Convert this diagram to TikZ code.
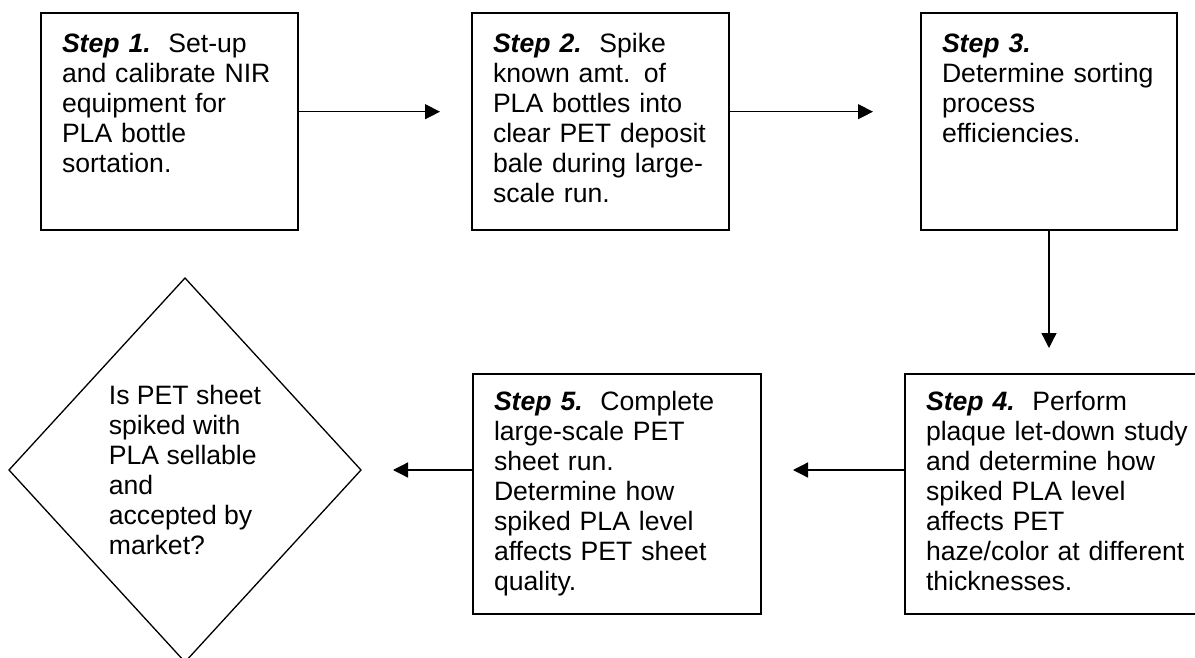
\documentclass[tikz,border=0pt]{standalone}
\usepackage{fontspec}
\setmainfont{Liberation Sans}
\usepackage{tikz}
\usetikzlibrary{arrows.meta,shapes.geometric}
\tikzset{
  stepbox/.style={draw,line width=1pt,anchor=north west,outer sep=0pt,inner xsep=10.5pt,inner ysep=0pt,align=left},
  toprow/.style={stepbox,text height=20pt,text depth=88.5pt},
  lowrow/.style={stepbox,text height=18pt,text depth=102pt},
  quest/.style={diamond,draw,line width=0.65pt,minimum width=176pt,minimum height=192pt,inner sep=0pt,outer sep=0pt,align=left},
  arr/.style={-{Triangle[length=7.5pt,width=7.5pt]},line width=0.65pt},
}
\newcommand{\stp}[1]{\textbf{\textit{Step #1.}}\ \ }

\begin{document}
\begin{tikzpicture}[x=0.5pt,y=-0.5pt,font=\fontsize{13.3}{15}\selectfont]
  \useasboundingbox (0,0) rectangle (1195,658);
  \node[toprow,text width=107.5pt] (s1) at (41,13)
    {\stp{1}Set-up\\and calibrate NIR\\equipment for\\PLA bottle\\sortation.};
  \node[toprow,text width=107.5pt] (s2) at (472,13)
    {\stp{2}Spike\\known amt. of\\PLA bottles into\\clear PET deposit\\bale during large-\\scale run.};
  \node[toprow,text width=107pt] (s3) at (921,13)
    {\textbf{\textit{Step 3.}}\\Determine sorting\\process\\efficiencies.};
  \node[lowrow,text width=134pt] (s4) at (905,374)
    {\stp{4}Perform\\plaque let-down study\\and determine how\\spiked PLA level\\affects PET\\haze/color at different\\thicknesses.};
  \node[lowrow,text width=123pt] (s5) at (473,374)
    {\stp{5}Complete\\large-scale PET\\sheet run.\\Determine how\\spiked PLA level\\affects PET sheet\\quality.};
  \node[quest] (q) at (185,470)
    {Is PET sheet\\spiked with\\PLA sellable\\and\\accepted by\\market?};
  \draw[arr,shorten >=16pt] ([yshift=4.9pt]s1.east) -- ([yshift=4.9pt]s2.west);
  \draw[arr,shorten >=24pt] ([yshift=4.9pt]s2.east) -- ([yshift=4.9pt]s3.west);
  \draw[arr,shorten >=13pt] (s3.south) -- (s3.south |- s4.north);
  \draw[arr,shorten >=16pt] ([yshift=12pt]s4.west) -- ([yshift=12pt]s5.east);
  \draw[arr,shorten >=16pt] ([yshift=12pt]s5.west) -- (q.east);
\end{tikzpicture}
\end{document}
